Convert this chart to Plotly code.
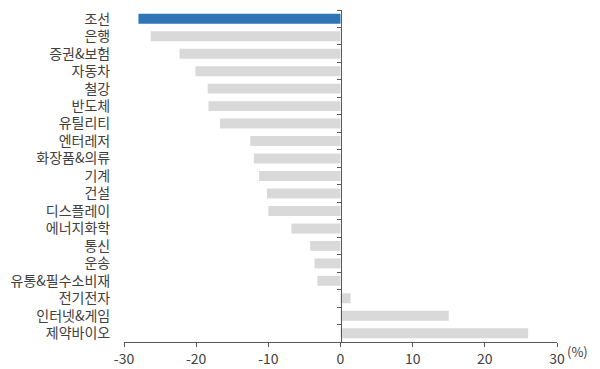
import plotly.graph_objects as go

categories = ["조선", "은행", "증권&보험", "자동차", "철강", "반도체", "유틸리티", "엔터레저",
              "화장품&의류", "기계", "건설", "디스플레이", "에너지화학", "통신", "운송",
              "유통&필수소비재", "전기전자", "인터넷&게임", "제약바이오"]
values = [-28.0, -26.3, -22.3, -20.1, -18.4, -18.3, -16.7, -12.5,
          -12.0, -11.3, -10.2, -10.0, -6.8, -4.2, -3.6,
          -3.2, 1.4, 15.0, 26.0]
highlight = "조선"
x_ticks = [-30, -20, -10, 0, 10, 20, 30]

colors = ["#2E75B6" if c == highlight else "#D9D9D9" for c in categories]
n = len(categories)

fig = go.Figure()
fig.add_trace(go.Bar(x=values, y=categories, orientation="h",
                     marker=dict(color=colors, line=dict(width=0)),
                     hoverinfo="x+y"))
# invisible trace to hold the center axis with boundary ticks
fig.add_trace(go.Scatter(x=[0], y=[0], yaxis="y2", mode="markers",
                         marker=dict(opacity=0), showlegend=False, hoverinfo="skip"))

font = "Noto Sans CJK KR, Malgun Gothic, sans-serif"
fig.update_layout(
    width=600, height=369,
    margin=dict(l=124, r=43, t=9.5, b=27, autoexpand=False),
    paper_bgcolor="white", plot_bgcolor="white",
    bargap=0.43, showlegend=False,
    font=dict(family=font, color="#404040"),
    xaxis=dict(range=[-30, 30], tickvals=x_ticks, ticktext=[str(v) for v in x_ticks],
               showgrid=False, zeroline=False, showline=True, linecolor="#595959",
               linewidth=1, ticks="outside", ticklen=4, tickcolor="#595959",
               tickfont=dict(size=14, color="#404040", family=font), fixedrange=True,
               automargin=False),
    yaxis=dict(categoryorder="array", categoryarray=categories, range=[n - 0.5, -0.5],
               showgrid=False, zeroline=False, showline=False,
               ticks="outside", ticklen=10, tickcolor="rgba(0,0,0,0)",
               tickfont=dict(size=14, color="#404040", family=font), automargin=False),
    yaxis2=dict(overlaying="y", anchor="free", position=0.5, range=[n - 0.5, -0.5],
                tickvals=[k - 0.5 for k in range(n + 1)], showticklabels=False,
                showgrid=False, zeroline=False, showline=True, linecolor="#595959",
                linewidth=1, ticks="outside", ticklen=4, tickcolor="#595959",
                automargin=False),
    annotations=[dict(text="(%)", xref="paper", yref="paper", x=1.0, y=-0.03,
                      xanchor="left", yanchor="middle", xshift=8, showarrow=False,
                      font=dict(size=13, color="#404040", family=font))],
)

fig.write_html("out.html", config={"displayModeBar": False},
               post_script="document.body.style.margin='0';document.body.style.padding='0';")
